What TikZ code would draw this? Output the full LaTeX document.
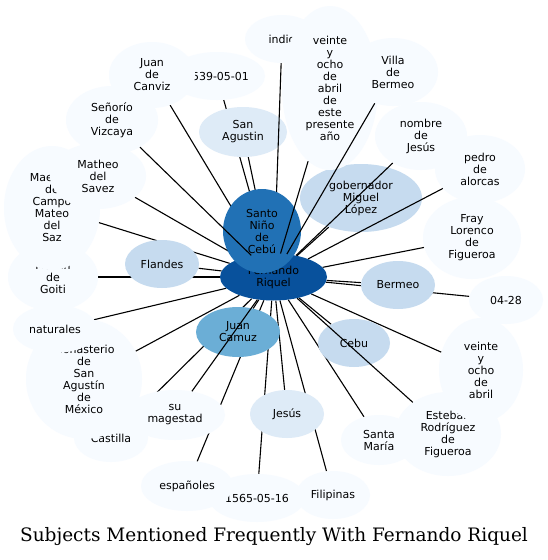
\documentclass[tikz,border=0pt]{standalone}
\usepackage{fontspec}
\newfontfamily\subjectfont{DejaVu Sans}
\newfontfamily\titlefont{DejaVu Serif}
\usetikzlibrary{shapes.geometric}

\definecolor{blueA}{HTML}{08519C}
\definecolor{blueB}{HTML}{2171B5}
\definecolor{blueC}{HTML}{6BAED6}
\definecolor{blueD}{HTML}{C6DBEF}
\definecolor{blueE}{HTML}{DEEBF7}
\definecolor{blueF}{HTML}{F7FBFF}

\pgfdeclarelayer{edges}
\pgfdeclarelayer{front}
\pgfsetlayers{edges,main,front}

\begin{document}
\begin{tikzpicture}[
    x=1pt, y=-1pt,
    subject/.style={ellipse, inner sep=0pt, align=center, fill=blueF,
        font={\subjectfont\fontsize{11}{12}\selectfont}},
    oval/.style 2 args={minimum width=#1, minimum height=#2},
    link/.style={line width=1.1pt, black}
]
    \useasboundingbox (0,0) rectangle (548,560);

    % hub and the subjects round it
    \node[subject, fill=blueA, oval={107}{47}] (riquel) at (273.5,277) {Fernando\\Riquel};
    \node[subject, fill=blueC, oval={84}{50}] (camuz) at (238,332) {Juan\\Camuz};
    \node[subject, fill=blueD, oval={72}{48}] (cebu) at (354,343) {Cebu};
    \node[subject, fill=blueE, oval={74}{48}] (jesus) at (287,414) {Jesús};
    \node[subject, fill=blueD, oval={74}{48}] (bermeo) at (398,285) {Bermeo};
    \node[subject, fill=blueD, oval={74}{48}] (flandes) at (162,264) {Flandes};
    \node[subject, fill=blueD, oval={122}{68}] (gobernador) at (361,198) {gobernador\\Miguel\\López};
    \node[subject, fill=blueE, oval={88}{50}] (agustin) at (243,132) {San\\Agustin};
    \node[subject, oval={74}{48}] (indio) at (282,39) {indio};
    \node[subject, oval={96}{164}] (veinte) at (330,88) {veinte\\y\\ocho\\de\\abril\\de\\este\\presente\\año};
    \node[subject, oval={90}{68}] (villa) at (393,72) {Villa\\de\\Bermeo};
    \node[subject, oval={92}{68}] (nombre) at (421,136) {nombre\\de\\Jesús};
    \node[subject, oval={90}{68}] (pedro) at (480,169) {pedro\\de\\alorcas};
    \node[subject, oval={98}{82}] (fray) at (472,238) {Fray\\Lorenco\\de\\Figueroa};
    \node[subject, oval={74}{48}] (fecha0428) at (506,300) {04-28};
    \node[subject, oval={76}{50}] (santamaria) at (379,440) {Santa\\María};
    \node[subject, oval={106}{84}] (esteban) at (448,434) {Esteban\\Rodríguez\\de\\Figueroa};
    \node[subject, oval={84}{104}] (veinteabril) at (481,370) {veinte\\y\\ocho\\de\\abril};
    \node[subject, oval={74}{48}] (filipinas) at (333,495) {Filipinas};
    \node[subject, oval={96}{48}] (fecha1565) at (257,498) {1565-05-16};
    \node[subject, oval={92}{50}] (espanoles) at (187,486) {españoles};
    \node[subject, oval={100}{50}] (magestad) at (175,415) {su\\magestad};
    \node[subject, oval={74}{48}] (castilla) at (111,438) {Castilla};
    \node[subject, oval={116}{120}] (monasterio) at (84,379) {Monasterio\\de\\San\\Agustín\\de\\México};
    \node[subject, oval={84}{48}] (naturales) at (55,329) {naturales};
    \node[subject, oval={90}{68}] (goiti) at (53,277) {Martín\\de\\Goiti};
    \node[subject, oval={96}{124}] (maestre) at (52,208) {Maestre\\de\\Campo\\Mateo\\del\\Saz};
    \node[subject, oval={96}{66}] (matheo) at (98,176) {Matheo\\del\\Savez};
    \node[subject, oval={92}{68}] (vizcaya) at (112,120) {Señorío\\de\\Vizcaya};
    \node[subject, oval={96}{48}] (fecha1539) at (217,76) {1539-05-01};
    \node[subject, oval={86}{66}] (canviz) at (152,75) {Juan\\de\\Canviz};

    \draw[link] (riquel) -- (indio);
    \node[subject, fill=blueB, oval={78}{84}] (nino) at (262,231) {Santo\\Niño\\de\\Cebú};

    \node (titel) at (274,537) {\titlefont\fontsize{18.5}{22}\selectfont Subjects Mentioned Frequently With Fernando Riquel};

    % links hidden behind the subjects
    \begin{pgfonlayer}{edges}
        \fill[white] (0,0) rectangle (548,560);
        \foreach \n in {camuz, cebu, jesus, bermeo, flandes, gobernador, agustin,
                fray, fecha0428, santamaria, veinteabril, filipinas, fecha1565,
                espanoles, castilla, monasterio, naturales, goiti, maestre,
                matheo, fecha1539, canviz}
            \draw[link] (riquel) -- (\n);
    \end{pgfonlayer}

    % links that run over the subjects
    \begin{pgfonlayer}{front}
        \foreach \n in {vizcaya, veinte, villa, nombre, pedro, magestad, esteban}
            \draw[link] (riquel) -- (\n);
    \end{pgfonlayer}
\end{tikzpicture}
\end{document}
